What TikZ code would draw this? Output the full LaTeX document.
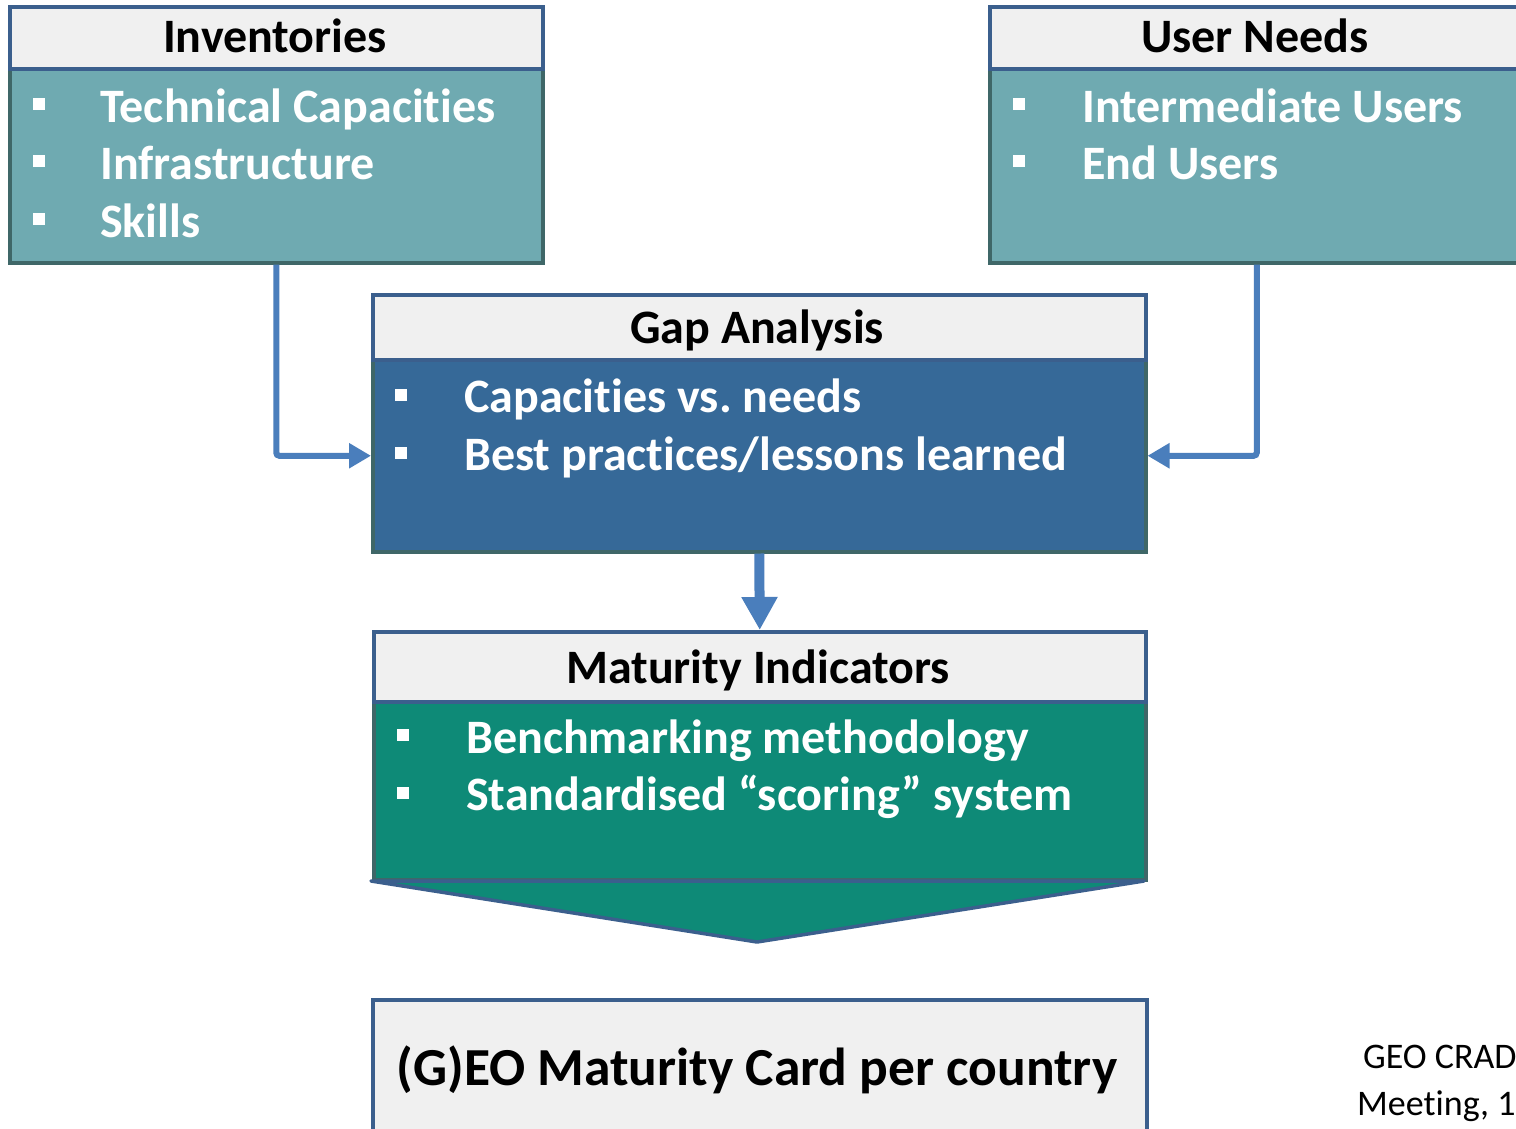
\documentclass[tikz,border=0pt]{standalone}
\usepackage{fontspec}
\setmainfont{Carlito}[Ligatures=NoCommon]
\usetikzlibrary{arrows.meta}
\frenchspacing
\definecolor{hdrfill}{HTML}{F0F0F0}
\definecolor{hdrline}{HTML}{3B5F8D}
\definecolor{bodyline}{HTML}{3F6768}
\definecolor{invfill}{HTML}{6FAAB1}
\definecolor{gapfill}{HTML}{366998}
\definecolor{matfill}{HTML}{0E8A77}
\definecolor{arrowc}{HTML}{4A7EBC}
\begin{document}
\begin{tikzpicture}[x=1pt,y=-1pt,
  hdr/.style={draw=hdrline, line width=3.5pt, fill=hdrfill, inner sep=0pt, anchor=north west},
  hdrtext/.style={anchor=base, inner sep=0pt, text=black, font=\fontsize{48}{52}\selectfont\bfseries},
  body/.style={draw=bodyline, line width=3.5pt, inner sep=0pt, anchor=north west},
  item/.style={anchor=base west, inner sep=0pt, text=white, font=\fontsize{48}{52}\selectfont\bfseries},
  bul/.style={fill=white, inner sep=0pt, minimum size=12pt},
  foot/.style={anchor=base west, inner sep=0pt, font=\fontsize{36}{38}\selectfont},
  conn/.style={draw=arrowc, line width=6pt, rounded corners=3pt, -{Triangle[width=24pt,length=22pt]}},
  bigconn/.style={draw=arrowc, line width=10pt, -{Triangle[width=34pt,length=33pt]}}
]
\useasboundingbox[fill=white] (0,0) rectangle (1516,1128);

% Inventories
\node[body, fill=invfill, minimum width=533pt, minimum height=194pt] (invB) at (8,67) {};
\node[hdr, minimum width=533pt, minimum height=62pt] (invH) at (8,5) {};
\node[hdrtext] (invT) at (275,52) {Inventories};
\node[bul] (ib1) at (39,104) {};
\node[bul] (ib2) at (39,161) {};
\node[bul] (ib3) at (39,219) {};
\node[item] (i1) at (100,122) {Technical Capacities};
\node[item] (i2) at (100,179) {Infrastructure};
\node[item] (i3) at (100,237) {Skills};

% User Needs
\node[body, fill=invfill, minimum width=534pt, minimum height=194pt] (userB) at (988,67) {};
\node[hdr, minimum width=534pt, minimum height=62pt] (userH) at (988,5) {};
\node[hdrtext] (userT) at (1255,52) {User Needs};
\node[bul] (ub1) at (1019,104) {};
\node[bul] (ub2) at (1019,161) {};
\node[item] (u1) at (1082,122) {Intermediate Users};
\node[item] (u2) at (1082,179) {End Users};

% Gap Analysis
\node[body, fill=gapfill, minimum width=773pt, minimum height=192pt] (gapB) at (371,358) {};
\node[hdr, minimum width=773pt, minimum height=65pt] (gapH) at (371,293) {};
\node[hdrtext] (gapT) at (757,343) {Gap Analysis};
\node[bul] (gb1) at (401,395) {};
\node[bul] (gb2) at (401,453) {};
\node[item] (g1) at (464,412) {Capacities vs.\ needs};
\node[item] (g2) at (464,470) {Best practices/lessons learned};

% Maturity Indicators
\node[body, fill=matfill, minimum width=772pt, minimum height=178pt] (matB) at (372,700) {};
\node[hdr, minimum width=772pt, minimum height=70pt] (matH) at (372,630) {};
\node[hdrtext] (matT) at (758,683) {Maturity Indicators};
\node[bul] (mb1) at (403,735) {};
\node[bul] (mb2) at (403,793) {};
\node[item] (m1) at (466,753) {Benchmarking methodology};
\node[item] (m2) at (466,810) {Standardised “scoring” system};

% chevron
\draw[draw=hdrline, line width=3.5pt, fill=matfill, line join=round] (371,881) -- (1144,881) -- (757,942) -- cycle;

% final card
\node[hdr, minimum width=774pt, minimum height=150pt] (card) at (371,998) {};
\node[hdrtext, font=\fontsize{53.5}{56}\selectfont\bfseries] (cardT) at (757,1085) {(G)EO Maturity Card per country};

% footer (cut off by the page edge)
\node[foot] (f1) at (1363,1068) {GEO CRAD};
\node[foot] (f2) at (1357,1115) {Meeting, 1};

% connectors
\draw[conn] (invB.south) |- (gapB.west);
\draw[conn] (userB.south) |- (gapB.east);
\draw[bigconn] (gapB.south) -- (matH.north);
\end{tikzpicture}
\end{document}
